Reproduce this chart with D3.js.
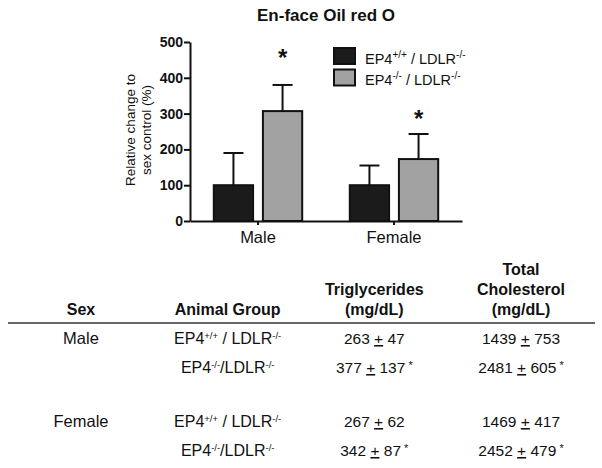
<!DOCTYPE html>
<html>
<head>
<meta charset="utf-8">
<script src="https://cdn.jsdelivr.net/npm/d3@7"></script>
<style>
  body { margin: 0; background: #fff; }
  text { font-family: Arial, "Liberation Sans", sans-serif; fill: #111; }
</style>
</head>
<body>
<svg id="drawSpace" width="602" height="468"></svg>
<script>
// ---- chart data ----
let sexes = ["Male", "Female"]
let groups = ["wt", "ko"]
let legendParts = [
    [["EP4", 0], ["+/+", 1], [" / LDLR", 0], ["-/-", 1]],
    [["EP4", 0], ["-/-", 1], [" / LDLR", 0], ["-/-", 1]]
]
let meanValues = { Male: [100, 307], Female: [100, 173] }
let errTops = { Male: [190, 380], Female: [155, 243] }
let starLevels = { Male: 460, Female: 291 }   // asterisk over knock-out bar
let yTicks = [0, 100, 200, 300, 400, 500]

// ---- table data ----
let tableHeaders = [["Sex"], ["Animal Group"], ["Triglycerides", "(mg/dL)"], ["Total", "Cholesterol", "(mg/dL)"]]
let rowSex = ["Male", "Male", "Female", "Female"]
let rowGroup = [
    [["EP4", 0], ["+/+", 1], [" / LDLR", 0], ["-/-", 1]],
    [["EP4", 0], ["-/-", 1], ["/LDLR", 0], ["-/-", 1]],
    [["EP4", 0], ["+/+", 1], [" / LDLR", 0], ["-/-", 1]],
    [["EP4", 0], ["-/-", 1], ["/LDLR", 0], ["-/-", 1]]
]
let trigMean = [263, 377, 267, 342]
let trigSd = [47, 137, 62, 87]
let cholMean = [1439, 2481, 1469, 2452]
let cholSd = [753, 605, 417, 479]
let significant = [false, true, false, true]

let themeBlack = "#1b1b1b"
let themeGray = "#a2a2a2"

let svg = d3.select("#drawSpace")

function addRich(sel, parts, supSize, shift) {
    parts.forEach(p => {
        let ts = sel.append("tspan").text(p[0])
        if (p[1]) ts.attr("font-size", supSize).attr("baseline-shift", shift)
    })
}

function renderBars() {
    let x0 = d3.scaleBand().domain(sexes).range([190, 462])
        .paddingInner(0.35).paddingOuter(0.175)
    let x1 = d3.scaleBand().domain(groups).range([0, x0.bandwidth()]).paddingInner(0.2)
    let y = d3.scaleLinear().domain([0, 500]).range([221, 42])

    // title
    svg.append("text").attr("x", 326).attr("y", 21).attr("text-anchor", "middle")
        .attr("font-size", 17).attr("font-weight", "bold").text("En-face Oil red O")

    // y label
    let yl = svg.append("text").attr("transform", "translate(134.5,130) rotate(-90)")
        .attr("text-anchor", "middle").attr("font-size", 13.5)
    yl.append("tspan").attr("x", 0).attr("y", 0).text("Relative change to")
    yl.append("tspan").attr("x", 0).attr("y", 16.5).text("sex control (%)")

    let g = svg.selectAll("g.sex").data(sexes).enter().append("g")
        .attr("transform", s => `translate(${x0(s)},0)`)

    // error bars (upward only)
    g.selectAll("line.err").data(s => groups.map((k, i) => ({ k, v: meanValues[s][i], e: errTops[s][i] })))
        .enter().append("g")
        .each(function (d) {
            let cx = x1(d.k) + x1.bandwidth() / 2
            let eg = d3.select(this)
            eg.append("line").attr("x1", cx).attr("x2", cx).attr("y1", y(d.v)).attr("y2", y(d.e))
                .attr("stroke", "#111").attr("stroke-width", 2)
            eg.append("line").attr("x1", cx - 10).attr("x2", cx + 10).attr("y1", y(d.e)).attr("y2", y(d.e))
                .attr("stroke", "#111").attr("stroke-width", 2)
        })

    g.selectAll("rect").data(s => groups.map((k, i) => ({ k, v: meanValues[s][i] })))
        .enter().append("rect")
        .attr("x", d => x1(d.k))
        .attr("width", x1.bandwidth())
        .attr("y", d => y(d.v))
        .attr("height", d => y(0) - y(d.v))
        .attr("fill", d => d.k === "wt" ? themeBlack : themeGray)
        .attr("stroke", "#111").attr("stroke-width", 2)

    // significance stars
    g.append("text")
        .attr("x", x1("ko") + x1.bandwidth() / 2)
        .attr("y", s => y(starLevels[s]) + 10)
        .attr("text-anchor", "middle").attr("font-size", 24).attr("font-weight", "bold")
        .text("*")

    // axes
    let yAxis = svg.append("g").attr("transform", "translate(190,0)")
        .call(d3.axisLeft(y).tickValues(yTicks).tickSize(6).tickSizeOuter(0).tickPadding(1))
    yAxis.selectAll("text").attr("font-size", 14).attr("font-weight", "bold")
        .attr("font-family", "Arial, 'Liberation Sans', sans-serif").attr("fill", "#111")
    yAxis.selectAll("path,line").attr("stroke", "#111").attr("stroke-width", 2)

    let xAxis = svg.append("g").attr("transform", "translate(0,221)")
        .call(d3.axisBottom(x0.copy().range([190, 462])).tickSize(4).tickSizeOuter(0).tickPadding(6))
    xAxis.selectAll("text").attr("font-size", 16.5)
        .attr("font-family", "Arial, 'Liberation Sans', sans-serif").attr("fill", "#111")
    xAxis.selectAll("path,line").attr("stroke", "#111").attr("stroke-width", 2)

    // legend
    let lg = svg.append("g").attr("transform", "translate(334,48)")
    let li = lg.selectAll("g").data(groups).enter().append("g")
        .attr("transform", (d, i) => `translate(0,${i * 21.5})`)
    li.append("rect").attr("width", 21).attr("height", 16)
        .attr("fill", d => d === "wt" ? themeBlack : themeGray)
        .attr("stroke", "#111").attr("stroke-width", 2)
    li.append("text").attr("x", 31).attr("y", 15.5).attr("font-size", 14.5)
        .each(function (d, i) { addRich(d3.select(this), legendParts[i], 10, 6) })
}

function renderTable() {
    let colX = d3.scalePoint().domain(d3.range(4)).range([81, 521])
    let sexY = d3.scalePoint().domain(sexes).range([344, 427])
    let rowY = i => sexY(rowSex[i]) + (i % 2) * 29

    // headers, bottom aligned
    tableHeaders.forEach((lines, c) => {
        let t = svg.append("text").attr("text-anchor", "middle")
            .attr("font-size", 16).attr("font-weight", "bold")
        lines.forEach((ln, j) => {
            t.append("tspan").attr("x", colX(c))
                .attr("y", 315 - (lines.length - 1 - j) * 20).text(ln)
        })
    })

    svg.append("line").attr("x1", 8).attr("x2", 595).attr("y1", 323).attr("y2", 323)
        .attr("stroke", "#333").attr("stroke-width", 1.5)

    let rows = svg.selectAll("g.row").data(d3.range(4)).enter().append("g")
        .attr("transform", i => `translate(0,${rowY(i)})`)

    rows.filter(i => i % 2 === 0).append("text").attr("x", colX(0))
        .attr("text-anchor", "middle").attr("font-size", 16.5).text(i => rowSex[i])

    rows.append("text").attr("x", colX(1)).attr("text-anchor", "middle").attr("font-size", 16)
        .each(function (i) { addRich(d3.select(this), rowGroup[i], 9.5, 5) })

    function valueCell(sel, col, means, sds) {
        sel.append("text").attr("x", colX(col)).attr("text-anchor", "middle").attr("font-size", 15.5)
            .each(function (i) {
                let t = d3.select(this)
                t.append("tspan").text(means[i] + " ")
                t.append("tspan").attr("text-decoration", "underline").text("+")
                t.append("tspan").text(" " + sds[i])
                if (significant[i]) t.append("tspan").attr("font-size", 11).attr("baseline-shift", 4).text(" *")
            })
    }
    valueCell(rows, 2, trigMean, trigSd)
    valueCell(rows, 3, cholMean, cholSd)
}

renderBars()
renderTable()
</script>
</body>
</html>
